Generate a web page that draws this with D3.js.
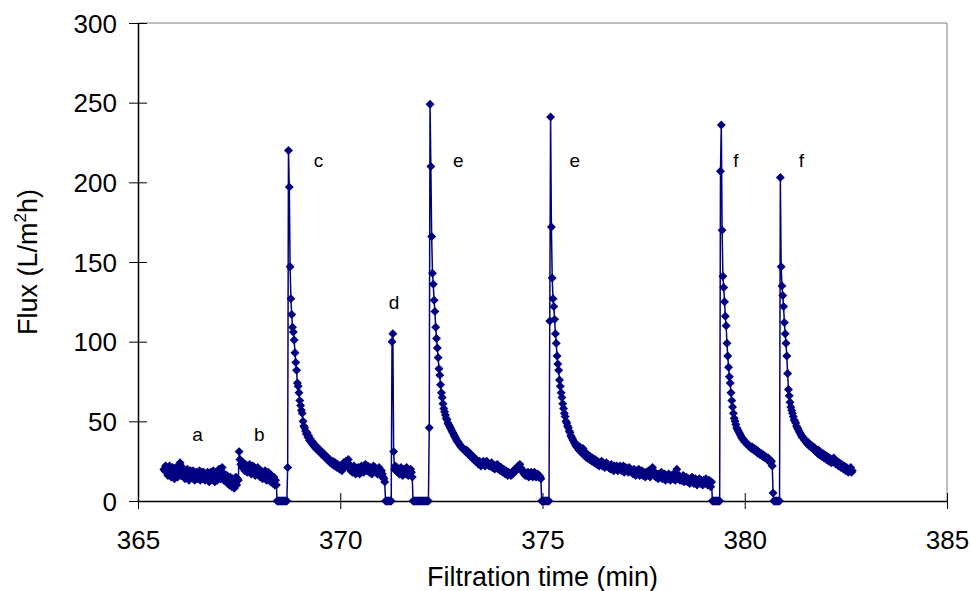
<!DOCTYPE html>
<html>
<head>
<meta charset="utf-8">
<title>Flux vs filtration time</title>
<script src="https://d3js.org/d3.v7.min.js"></script>
<style>
  body { margin: 0; background: #fff; }
  svg { font-family: Arial, "Liberation Sans", sans-serif; }
</style>
</head>
<body>
<div id="chart"></div>
<script>
// ticks
const xTicks = [365, 370, 375, 380, 385];
const yTicks = [0, 50, 100, 150, 200, 250, 300];

// logger samples every 0.02 min; each run starts at its own time
const sampleStep = 0.02;

// runs a + b
const runAB = [20,19,22,18,21,16,19,22,18,15,19,21,17,14,18,21,19,15,18,22,24,16,19,21,17,
  17,14,18,16,20,17,13,16,19,15,17,19,15,13,17,18,14,17,16,19,13,16,18,14,18,
  16,13,17,15,18,16,12,15,18,14,16,19,15,12,16,17,13,16,20,17,14,18,21,16,13,
  17,15,12,16,11,14,10,15,13,9,14,12,8,13,15,10,14,13,
  31,
  26,23,25,21,24,22,19,23,21,18,22,20,23,21,17,20,22,18,21,16,20,18,21,19,16,
  15,19,17,14,18,16,19,17,13,16,18,14,17,12,16,14,11,15,10,13,10];
const gap1 = [0,0,0,0,0,0,0,0,0,0,0,0,0];
// run c
const runC = [21,220,197,147,127,117,109,106,101,93,
  87,82,74,72,68,63,60,57,55,50,
  47,46,44,42,43,40,41,38,39,37,
  36,37,35,34,35,33,34,32,33,31,
  32,30,31,29,30,28,29,27,28,26,
  27,25,26,24,25,23,25,24,22,24,
  23,21,23,22,20,22,21,19,22,24,
  21,23,25,22,24,26,23,21,19,21,
  18,20,22,19,17,20,18,21,19,17,
  20,22,19,21,18,20,23,21,19,22,
  20,18,21,19,17,20,22,19,21,18,
  20,17,19,21,18,16,19,17,15,14,
  12];
const gap2 = [0,0,0,0,0,0,0,0];
// run d
const runD = [100,105,31,20,22,19,21,18,20,17,19,21,18,16,19,20,17,19,21,18,16,19,17,20,18,15];
const gap3 = [0,0,0,0,0,0,0,0,0,0,0,0,0,0,0,0,0,0,0,0];
// run e (first)
const runE1 = [46,249,210,166,143,136,126,119,109,102,
  96,90,83,79,73,68,65,61,58,56,
  54,52,51,49,48,47,46,45,44,43,
  42,41,40,39,38,37,37,36,35,34,
  34,33,33,32,32,31,32,30,31,29,
  30,28,29,27,28,26,27,25,26,25,
  24,23,25,24,22,24,23,25,24,22,
  23,25,24,23,22,23,22,24,21,23,
  22,20,22,21,23,20,22,21,19,21,
  20,18,20,19,17,19,18,16,18,17,
  17,16,18,17,19,18,20,19,21,20,
  22,21,23,21,20,19,18,17,18,16,
  17,16,18,15,17,16,18,17,15,16,
  18,17,15,16,17,15,16,15,14];
const gap4 = [0,0,0,0,0,0,0,0,0,0];
// run e (second)
const runE2 = [113,241,172,140,127,122,114,105,99,91,
  86,82,76,72,68,65,61,58,55,53,
  50,49,47,46,44,43,41,40,39,38,
  37,36,35,34,35,33,32,34,31,32,
  30,33,29,31,28,30,27,29,28,26,
  28,27,25,27,26,24,26,25,23,25,
  24,22,24,23,25,22,24,23,21,23,
  24,22,23,21,22,20,23,22,21,19,
  22,21,20,22,19,21,20,22,21,19,
  20,22,18,20,21,19,20,18,21,19,
  20,18,19,17,20,18,16,19,17,18,
  20,16,18,17,19,16,18,17,15,18,
  16,17,19,16,15,17,18,21,17,16,
  18,15,17,16,14,17,15,16,18,14,
  16,15,17,13,16,15,14,17,15,13,
  16,14,15,17,14,13,16,20,15,14,
  16,13,15,13,14,16,12,14,13,15,
  12,14,13,11,14,12,15,13,11,13,
  14,12,10,13,12,14,11,13,12,10,
  13,11,12,14,11,10,12,13,11,9,
  12];
const gap5 = [0,0,0,0,0,0,0,0,0,0];
// run f (first)
const runF1 = [207,236,170,141,134,125,116,110,99,91,
  84,78,74,68,63,59,55,52,50,48,
  46,45,44,43,42,41,40,39,39,38,
  37,37,36,36,35,35,34,34,33,34,
  33,32,33,32,31,32,30,31,30,29,
  30,29,28,29,28,27,28,27,26,27,
  25,26,24,25,22];
const gap6 = [5,0,0,0,0,0,0,0,0];
// run f (second)
const runF2 = [203,147,135,129,122,112,105,99,91,80,
  70,66,62,59,57,55,53,51,50,49,
  47,46,45,44,43,42,41,40,40,39,
  38,38,37,36,37,35,36,34,35,34,
  33,34,32,33,31,32,30,32,29,31,
  30,28,30,29,27,29,28,26,28,27,
  25,27,26,24,26,25,27,24,25,23,
  25,24,22,24,23,21,23,22,20,22,
  21,19,21,20,18,20,19,21,18,19];

const runs = [runAB, gap1, runC, gap2, runD, gap3, runE1, gap4, runE2, gap5, runF1, gap6, runF2];
const runStarts = [365.64, 368.44, 368.70, 371.12, 371.28, 371.80, 372.20, 374.98, 375.18, 379.20, 379.40, 380.70, 380.88];

// peak labels (time, flux at text baseline)
const labelText = ["a", "b", "c", "d", "e", "e", "f", "f"];
const labelTime = [366.47, 368.00, 369.46, 371.33, 372.92, 375.80, 379.78, 381.40];
const labelFlux = [37.5, 37.5, 209.5, 120.5, 209.5, 209.5, 209.5, 209.5];

const points = [];
runs.forEach((vals, r) => {
  vals.forEach((v, i) => points.push({ t: runStarts[r] + i * sampleStep, flux: v }));
});

const width = 971, height = 591;
const svg = d3.select("#chart").append("svg")
  .attr("width", width)
  .attr("height", height);

const x = d3.scaleLinear().domain([365, 385]).range([138, 947]);
const y = d3.scaleLinear().domain([0, 300]).range([501, 23]);

// plot frame (top + right)
svg.append("path")
  .attr("d", `M${x(365)},${y(300)}H${x(385)}V${y(0)}`)
  .attr("fill", "none")
  .attr("stroke", "#808080")
  .attr("stroke-width", 1);

const xAxis = svg.append("g")
  .attr("transform", `translate(0,${y(0)})`)
  .call(d3.axisBottom(x).tickValues(xTicks).tickFormat(d3.format("d")).tickSizeOuter(0));
xAxis.select(".domain").attr("stroke", "#000").attr("stroke-width", 1.5);
xAxis.selectAll(".tick line").attr("y1", -8).attr("y2", 8).attr("stroke", "#000");
xAxis.selectAll(".tick text")
  .attr("y", 48).attr("dy", null)
  .attr("font-size", 26).attr("fill", "#000");

const yAxis = svg.append("g")
  .attr("transform", `translate(${x(365)},0)`)
  .call(d3.axisLeft(y).tickValues(yTicks).tickSizeOuter(0));
yAxis.select(".domain").attr("stroke", "#000").attr("stroke-width", 1.5);
yAxis.selectAll(".tick line").attr("x1", -9).attr("x2", 9).attr("stroke", "#000");
yAxis.selectAll(".tick text")
  .attr("x", -21).attr("dy", "0.35em")
  .attr("font-size", 26).attr("fill", "#000");

// series line + diamonds
svg.append("path")
  .datum(points)
  .attr("fill", "none")
  .attr("stroke", "#000080")
  .attr("stroke-width", 1.5)
  .attr("d", d3.line().x(d => x(d.t)).y(d => y(d.flux)));

const diamond = d3.symbol().type(d3.symbolSquare).size(40);
svg.append("g")
  .selectAll("path")
  .data(points)
  .join("path")
  .attr("d", diamond)
  .attr("transform", d => `translate(${x(d.t)},${y(d.flux)}) rotate(45)`)
  .attr("fill", "#000080");

// letters over peaks
svg.append("g")
  .selectAll("text")
  .data(labelText)
  .join("text")
  .attr("x", (d, i) => x(labelTime[i]))
  .attr("y", (d, i) => y(labelFlux[i]))
  .attr("text-anchor", "middle")
  .attr("font-size", 19)
  .text(d => d);

// axis titles
svg.append("text")
  .attr("x", (x(365) + x(385)) / 2)
  .attr("y", 586)
  .attr("text-anchor", "middle")
  .attr("font-size", 27)
  .text("Filtration time (min)");

const yTitle = svg.append("text")
  .attr("transform", `translate(37,${(y(0) + y(300)) / 2}) rotate(-90)`)
  .attr("text-anchor", "middle")
  .attr("font-size", 27);
yTitle.append("tspan").text("Flux (L/m");
yTitle.append("tspan").attr("font-size", 17).attr("dy", -11).text("2");
yTitle.append("tspan").attr("dy", 11).text("h)");
</script>
</body>
</html>
